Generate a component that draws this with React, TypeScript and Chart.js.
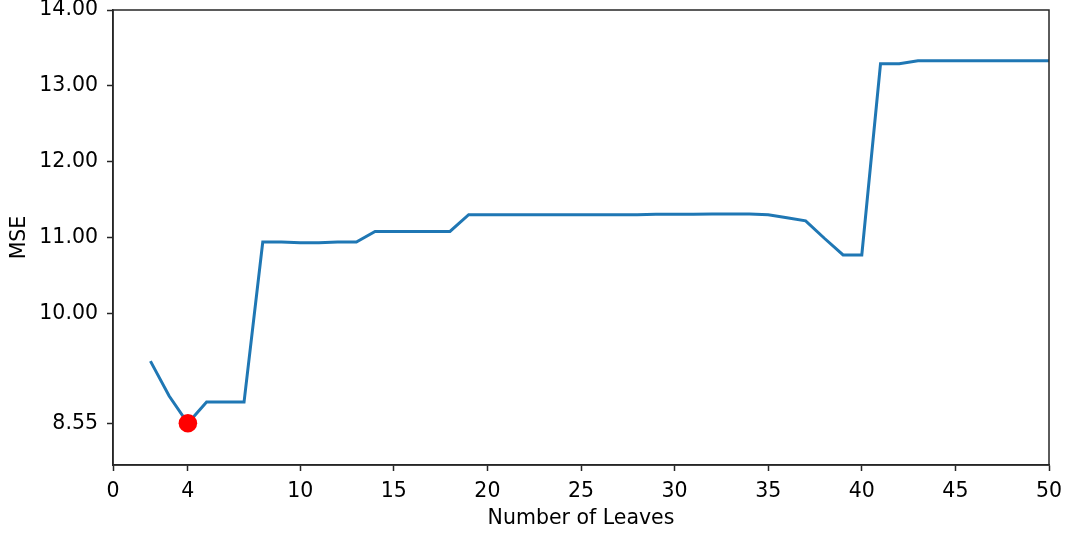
import React, { useEffect, useRef } from "react";
import { Chart, registerables } from "chart.js";

Chart.register(...registerables);

const leaves = [
  2, 3, 4, 5, 6, 7, 8, 9, 10, 11, 12, 13, 14, 15, 16, 17, 18, 19, 20, 21, 22, 23, 24, 25, 26,
  27, 28, 29, 30, 31, 32, 33, 34, 35, 36, 37, 38, 39, 40, 41, 42, 43, 44, 45, 46, 47, 48, 49, 50,
];
const mse = [
  9.37, 8.91, 8.55, 8.83, 8.83, 8.83, 10.94, 10.94, 10.93, 10.93, 10.94, 10.94, 11.08, 11.08,
  11.08, 11.08, 11.08, 11.3, 11.3, 11.3, 11.3, 11.3, 11.3, 11.3, 11.3, 11.3, 11.3, 11.305, 11.305,
  11.305, 11.31, 11.31, 11.31, 11.3, 11.26, 11.22, 10.99, 10.77, 10.77, 13.29, 13.29, 13.33, 13.33,
  13.33, 13.33, 13.33, 13.33, 13.33, 13.33,
];
const bestLeaves = 4;
const bestMse = 8.55;
const xTicks = [0, 4, 10, 15, 20, 25, 30, 35, 40, 45, 50];
const yTicks = [8.55, 10, 11, 12, 13, 14];

const FONT = "'DejaVu Sans', sans-serif";
const FS = 20.5;
const AXIS = "#262626";

const boxPlugin = {
  id: "box",
  afterDraw(chart: any) {
    const { ctx, chartArea } = chart;
    ctx.save();
    ctx.strokeStyle = AXIS;
    ctx.lineWidth = 1.5;
    ctx.strokeRect(chartArea.left, chartArea.top, chartArea.right - chartArea.left, chartArea.bottom - chartArea.top);
    ctx.restore();
  },
};

export default function App() {
  const ref = useRef<HTMLCanvasElement>(null);
  useEffect(() => {
    const chart = new Chart(ref.current!, {
      type: "line",
      data: {
        datasets: [
          {
            data: [{ x: bestLeaves, y: bestMse }],
            borderColor: "#ff0000",
            backgroundColor: "#ff0000",
            pointRadius: 9.3,
            pointBorderWidth: 0,
            showLine: false,
            order: 0,
          },
          {
            data: leaves.map((x, i) => ({ x, y: mse[i] })),
            borderColor: "#1f77b4",
            borderWidth: 3,
            pointRadius: 0,
            fill: false,
            tension: 0,
            order: 1,
          },
        ],
      },
      options: {
        animation: false,
        responsive: false,
        events: [],
        layout: { padding: { top: 10, right: 19, left: 0, bottom: 0 } },
        plugins: { legend: { display: false }, tooltip: { enabled: false } },
        scales: {
          x: {
            type: "linear",
            min: 0,
            max: 50,
            afterBuildTicks: (s: any) => {
              s.ticks = xTicks.map((v) => ({ value: v }));
            },
            afterFit: (s: any) => {
              s.height = 70;
              s.paddingLeft = 0;
              s.paddingRight = 0;
            },
            ticks: {
              autoSkip: false,
              maxRotation: 0,
              color: "#000",
              font: { family: FONT, size: FS },
              padding: 8,
              callback: (v: any) => String(v),
            },
            grid: {
              display: true,
              drawOnChartArea: false,
              drawTicks: true,
              tickLength: 6,
              tickWidth: 1.5,
              tickColor: AXIS,
            },
            border: { display: true, color: AXIS, width: 1.5 },
            title: {
              display: true,
              text: "Number of Leaves",
              color: "#000",
              font: { family: FONT, size: FS },
              padding: { top: 0, bottom: 4 },
            },
          },
          y: {
            type: "linear",
            min: 8,
            max: 14,
            afterBuildTicks: (s: any) => {
              s.ticks = yTicks.map((v) => ({ value: v }));
            },
            afterFit: (s: any) => {
              s.width = 113;
              s.paddingTop = 0;
              s.paddingBottom = 0;
            },
            ticks: {
              autoSkip: false,
              color: "#000",
              font: { family: FONT, size: FS },
              padding: 9,
              callback: (v: any) => Number(v).toFixed(2),
            },
            grid: {
              display: true,
              drawOnChartArea: false,
              drawTicks: true,
              tickLength: 6,
              tickWidth: 1.5,
              tickColor: AXIS,
            },
            border: { display: true, color: AXIS, width: 1.5 },
            title: {
              display: true,
              text: "MSE",
              color: "#000",
              font: { family: FONT, size: FS },
              padding: { top: 7, bottom: 0 },
            },
          },
        },
      },
      plugins: [boxPlugin],
    });
    return () => chart.destroy();
  }, []);
  return (
    <div style={{ position: "absolute", left: 0, top: 0, width: 1068, height: 535, background: "#fff" }}>
      <canvas ref={ref} width={1068} height={535} />
    </div>
  );
}
